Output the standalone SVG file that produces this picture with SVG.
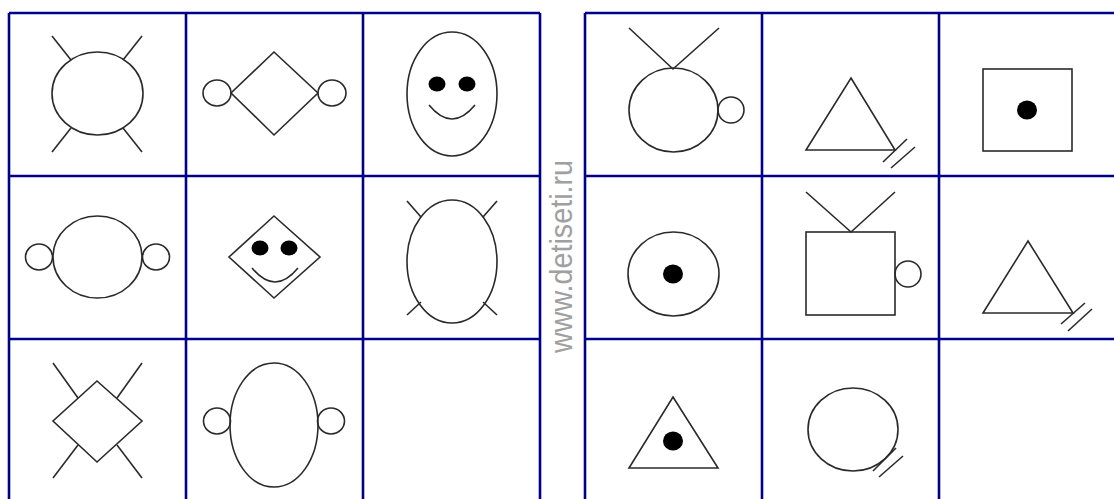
<svg xmlns="http://www.w3.org/2000/svg" width="1114" height="499" viewBox="0 0 1114 499">
<style>
.g{stroke:#00008b;stroke-width:2.6;fill:none}
.s{stroke:#2a2a2a;stroke-width:1.6;fill:none}
.d{fill:#000}
.wm{font-family:"Liberation Sans",Arial,sans-serif;font-size:32px;fill:#a0a0a0}
</style>
<rect width="1114" height="499" fill="#fff"/>
<g id="grid-left" class="g">
<line x1="9" y1="13" x2="540" y2="13"/><line x1="9" y1="176" x2="540" y2="176"/><line x1="9" y1="339" x2="540" y2="339"/><line x1="9" y1="502" x2="540" y2="502"/>
<line x1="9" y1="13" x2="9" y2="502"/><line x1="186" y1="13" x2="186" y2="502"/><line x1="363" y1="13" x2="363" y2="502"/><line x1="540" y1="13" x2="540" y2="502"/>
</g>
<g id="grid-right" class="g">
<line x1="585" y1="13" x2="1116" y2="13"/><line x1="585" y1="176" x2="1116" y2="176"/><line x1="585" y1="339" x2="1116" y2="339"/><line x1="585" y1="502" x2="1116" y2="502"/>
<line x1="585" y1="13" x2="585" y2="502"/><line x1="762" y1="13" x2="762" y2="502"/><line x1="939" y1="13" x2="939" y2="502"/>
</g>
<text class="wm" transform="translate(572,353) rotate(-90)" textLength="193" lengthAdjust="spacingAndGlyphs">www.detiseti.ru</text>
<!-- left grid row 1 -->
<g id="L11" class="s">
<ellipse cx="97.5" cy="93.5" rx="45.5" ry="41.5"/>
<line x1="52" y1="36" x2="71" y2="60"/><line x1="142" y1="36" x2="123" y2="60"/>
<line x1="52" y1="152" x2="71" y2="128"/><line x1="142" y1="152" x2="123" y2="128"/>
</g>
<g id="L12" class="s">
<polygon points="274,52 318,93 274,135 231,93"/>
<ellipse cx="217" cy="93" rx="14" ry="13"/><ellipse cx="332" cy="93" rx="14" ry="13"/>
</g>
<g id="L13">
<ellipse class="s" cx="452" cy="94" rx="45" ry="62"/>
<ellipse class="d" cx="437" cy="84" rx="8.5" ry="7.5"/><ellipse class="d" cx="467" cy="84" rx="8.5" ry="7.5"/>
<path class="s" d="M429,105 Q452,133 475,105"/>
</g>
<!-- left grid row 2 -->
<g id="L21" class="s">
<ellipse cx="97.5" cy="257" rx="44.5" ry="41"/>
<ellipse cx="39" cy="257" rx="13.5" ry="13"/><ellipse cx="156" cy="257" rx="13.5" ry="13"/>
</g>
<g id="L22">
<polygon class="s" points="274,216 320,257 274,298 229,257"/>
<ellipse class="d" cx="260" cy="248" rx="8.5" ry="7.5"/><ellipse class="d" cx="289" cy="248" rx="8.5" ry="7.5"/>
<path class="s" d="M252,268 Q275,296 298,268"/>
</g>
<g id="L23" class="s">
<ellipse cx="452" cy="261.5" rx="45" ry="61.5"/>
<line x1="407" y1="201" x2="421" y2="217"/><line x1="497" y1="201" x2="483" y2="217"/>
<line x1="407" y1="315" x2="421" y2="302"/><line x1="497" y1="315" x2="483" y2="302"/>
</g>
<!-- left grid row 3 -->
<g id="L31" class="s">
<polygon points="97,381 142,421 97,462 53,421"/>
<line x1="53" y1="363" x2="78" y2="398"/><line x1="142" y1="363" x2="117" y2="398"/>
<line x1="53" y1="478" x2="78" y2="445"/><line x1="142" y1="478" x2="117" y2="445"/>
</g>
<g id="L32" class="s">
<ellipse cx="274" cy="425" rx="44" ry="62"/>
<ellipse cx="217" cy="421" rx="13.5" ry="13"/><ellipse cx="331" cy="421" rx="13.5" ry="13"/>
</g>
<!-- right grid row 1 -->
<g id="R11" class="s">
<ellipse cx="673.5" cy="110" rx="44.5" ry="42"/>
<polyline points="629,28 673,69 719,28"/>
<circle cx="731" cy="110" r="13"/>
</g>
<g id="R12" class="s">
<polygon points="851,78 895,150 806,150"/>
<line x1="883" y1="162" x2="907" y2="139"/><line x1="891" y1="168" x2="915" y2="147"/>
</g>
<g id="R13">
<rect class="s" x="983" y="69" width="89" height="82"/>
<ellipse class="d" cx="1027" cy="110" rx="10" ry="9.5"/>
</g>
<!-- right grid row 2 -->
<g id="R21">
<ellipse class="s" cx="673.5" cy="274" rx="45.5" ry="42"/>
<ellipse class="d" cx="673" cy="274" rx="10" ry="9.5"/>
</g>
<g id="R22" class="s">
<rect x="806" y="232" width="89" height="83"/>
<polyline points="806,192 851,232 895,192"/>
<circle cx="908" cy="274" r="13"/>
</g>
<g id="R23" class="s">
<polygon points="1028,241 1073,313 983,313"/>
<line x1="1061" y1="324" x2="1085" y2="303"/><line x1="1068" y1="331" x2="1092" y2="309"/>
</g>
<!-- right grid row 3 -->
<g id="R31">
<polygon class="s" points="673,397 718,468 629,468"/>
<ellipse class="d" cx="673" cy="441" rx="10" ry="9.5"/>
</g>
<g id="R32" class="s">
<ellipse cx="853" cy="429.5" rx="45" ry="41.5"/>
<line x1="873" y1="471" x2="896" y2="448"/><line x1="879" y1="477" x2="903" y2="456"/>
</g>
</svg>
